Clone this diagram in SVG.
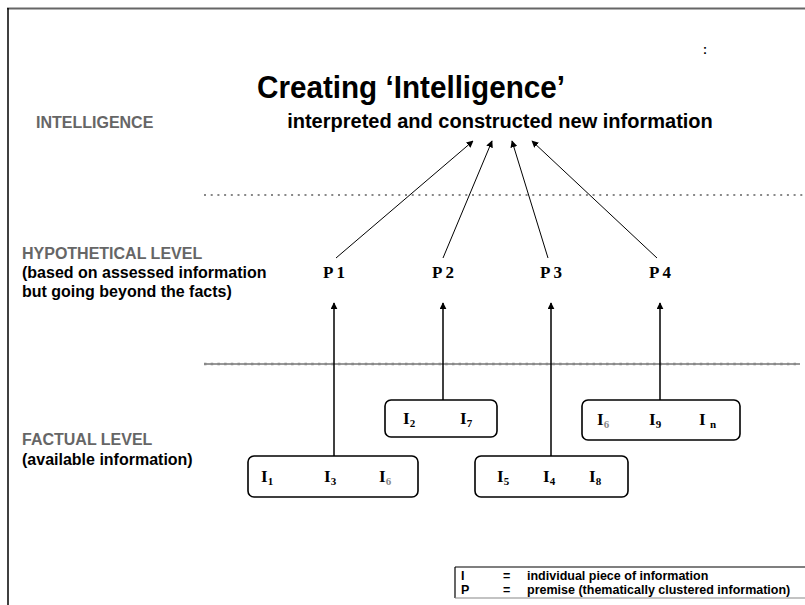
<svg xmlns="http://www.w3.org/2000/svg" width="805" height="605" viewBox="0 0 805 605">
<defs>
<style>
.sans{font-family:"Liberation Sans",Arial,sans-serif;font-weight:bold}
.lbl{font-size:16px}
.gray{fill:#666}
.serif{font-family:"Liberation Serif","Times New Roman",serif;font-weight:bold;font-size:17px}
.sub{font-size:11px}
.box{fill:#fff;stroke:#000;stroke-width:1.6}
.conn{stroke:#000;stroke-width:1;fill:none}
.vconn{stroke:#000;stroke-width:1.5;fill:none}
.leg{font-size:12.5px}
</style>
<marker id="ah" viewBox="0 0 10 10" refX="9" refY="5" markerWidth="7" markerHeight="7" markerUnits="userSpaceOnUse" orient="auto">
<path d="M0,0 L10,5 L0,10 z" fill="#000"/>
</marker>
</defs>
<rect width="805" height="605" fill="#fff"/>
<!-- frame -->
<line x1="7" y1="8.5" x2="805" y2="8.5" stroke="#666" stroke-width="2"/>
<line x1="8" y1="8" x2="8" y2="605" stroke="#000" stroke-width="1.5"/>

<text class="sans" x="411" y="98" font-size="32" text-anchor="middle" textLength="308" lengthAdjust="spacingAndGlyphs">Creating ‘Intelligence’</text>
<text class="sans" x="705" y="54" font-size="12" text-anchor="middle">:</text>

<g id="left-labels">
<text class="sans lbl gray" x="36" y="128">INTELLIGENCE</text>
<text class="sans lbl gray" x="22" y="259">HYPOTHETICAL LEVEL</text>
<text class="sans lbl" x="22" y="278">(based on assessed information</text>
<text class="sans lbl" x="22" y="297">but going beyond the facts)</text>
<text class="sans lbl gray" x="22" y="445">FACTUAL LEVEL</text>
<text class="sans lbl" x="22" y="465">(available information)</text>
</g>

<!-- level dividers -->
<line x1="204" y1="195" x2="805" y2="195" stroke="#888" stroke-width="2" stroke-dasharray="2 4.7"/>
<line x1="204" y1="364" x2="800" y2="364" stroke="#333" stroke-width="1"/>
<line x1="204" y1="364" x2="800" y2="364" stroke="#888" stroke-width="2.5" stroke-dasharray="2.5 4.2"/>

<g id="intelligence">
<text class="sans" x="500" y="128" font-size="20" text-anchor="middle">interpreted and constructed new information</text>
</g>

<g id="P1"><text class="serif" x="334" y="278" text-anchor="middle">P 1</text></g>
<g id="P2"><text class="serif" x="443" y="278" text-anchor="middle">P 2</text></g>
<g id="P3"><text class="serif" x="551" y="278" text-anchor="middle">P 3</text></g>
<g id="P4"><text class="serif" x="660" y="278" text-anchor="middle">P 4</text></g>

<g id="box1">
<rect class="box" x="248" y="456" width="170" height="41" rx="6"/>
<text class="serif" x="261" y="482">I<tspan class="sub" dy="3">1</tspan></text>
<text class="serif" x="324" y="482">I<tspan class="sub" dy="3">3</tspan></text>
<text class="serif" x="379" y="482">I<tspan class="sub" dy="3" fill="#888">6</tspan></text>
</g>
<g id="box2">
<rect class="box" x="385" y="400" width="112" height="37" rx="6"/>
<text class="serif" x="403" y="424">I<tspan class="sub" dy="3">2</tspan></text>
<text class="serif" x="460" y="424">I<tspan class="sub" dy="3">7</tspan></text>
</g>
<g id="box3">
<rect class="box" x="475" y="456" width="153" height="41" rx="6"/>
<text class="serif" x="497" y="482">I<tspan class="sub" dy="3">5</tspan></text>
<text class="serif" x="543" y="482">I<tspan class="sub" dy="3">4</tspan></text>
<text class="serif" x="589" y="482">I<tspan class="sub" dy="3">8</tspan></text>
</g>
<g id="box4">
<rect class="box" x="582" y="400" width="158" height="40" rx="6"/>
<text class="serif" x="597" y="425">I<tspan class="sub" dy="3" fill="#888">6</tspan></text>
<text class="serif" x="649" y="425">I<tspan class="sub" dy="3">9</tspan></text>
<text class="serif" x="699" y="425">I <tspan class="sub" dy="3">n</tspan></text>
</g>

<g id="connectors">
<line class="vconn" x1="334" y1="456" x2="334" y2="303" marker-end="url(#ah)"/>
<line class="vconn" x1="443" y1="400" x2="443" y2="303" marker-end="url(#ah)"/>
<line class="vconn" x1="551" y1="456" x2="551" y2="303" marker-end="url(#ah)"/>
<line class="vconn" x1="660" y1="400" x2="660" y2="303" marker-end="url(#ah)"/>
<line class="conn" x1="336" y1="258" x2="473" y2="141" marker-end="url(#ah)"/>
<line class="conn" x1="443" y1="258" x2="492" y2="141" marker-end="url(#ah)"/>
<line class="conn" x1="548" y1="258" x2="512" y2="141" marker-end="url(#ah)"/>
<line class="conn" x1="657" y1="258" x2="532" y2="141" marker-end="url(#ah)"/>
</g>

<g id="legend">
<line x1="455" y1="567" x2="805" y2="567" stroke="#000" stroke-width="1.2"/>
<line x1="455" y1="567" x2="455" y2="598" stroke="#000" stroke-width="1.2"/>
<line x1="455" y1="598" x2="805" y2="598" stroke="#888" stroke-width="1.2"/>
<text class="sans leg" x="461" y="580">I</text>
<text class="sans leg" x="503" y="580">=</text>
<text class="sans leg" x="527" y="580">individual piece of information</text>
<text class="sans leg" x="461" y="594">P</text>
<text class="sans leg" x="503" y="594">=</text>
<text class="sans leg" x="527" y="594">premise (thematically clustered information)</text>
</g>
</svg>
